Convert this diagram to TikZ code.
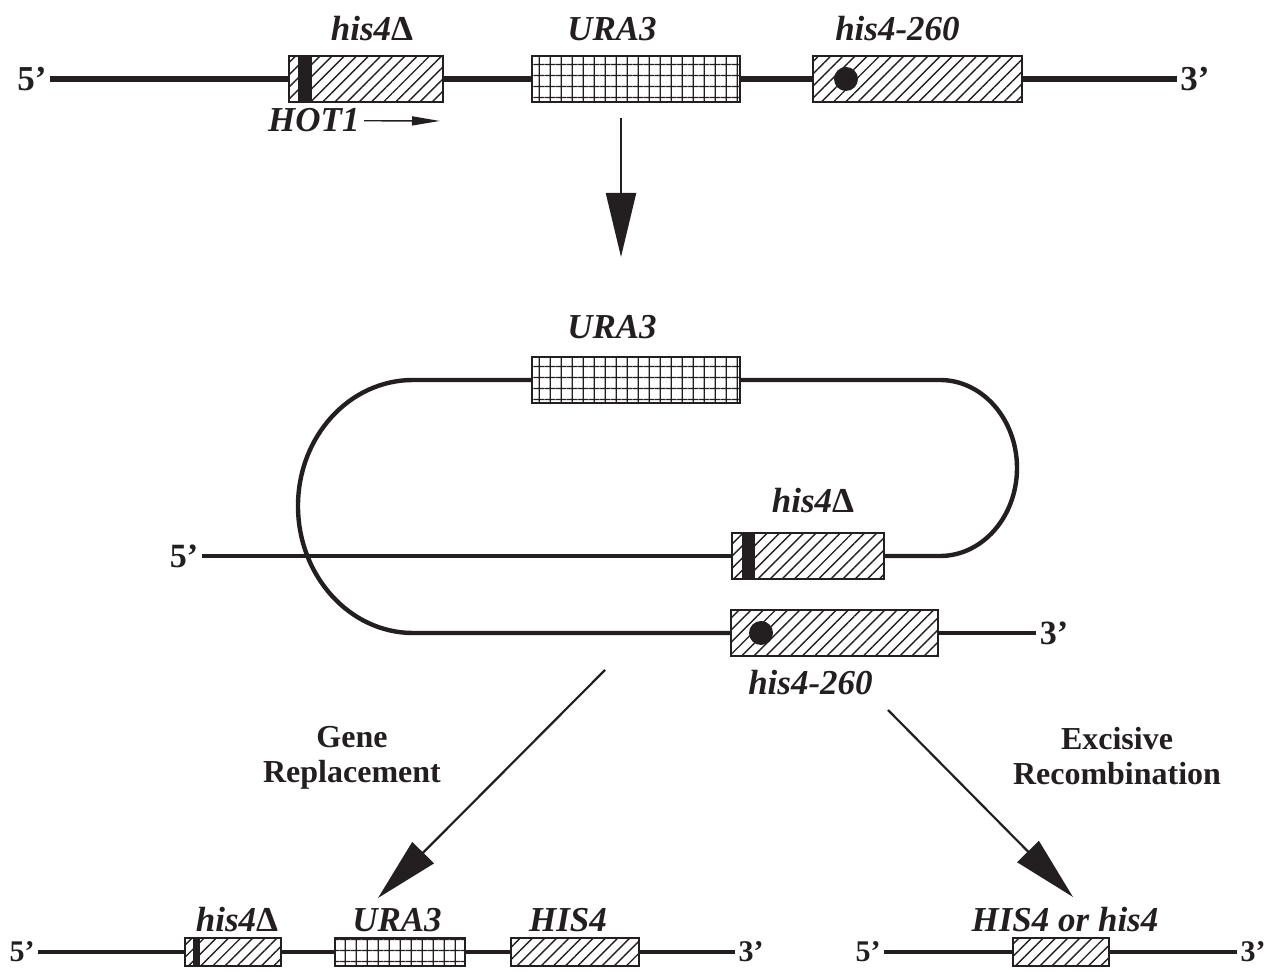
\documentclass[tikz,border=0pt]{standalone}
\usepackage{fontspec}
\setmainfont{Liberation Serif}
\usepackage{xcolor}
\usepackage{tikz}
\usetikzlibrary{arrows.meta,positioning,patterns.meta}
\definecolor{ink}{HTML}{231F20}
\tikzset{
  strand/.style={
    line width=#1, color=ink
  },
  strand/.default=2.6pt,
  hatchbox/.style={
    rectangle, draw=ink, line width=1.2pt,
    minimum width=#1, minimum height=23pt,
    inner sep=0pt, outer sep=0pt,
    pattern={Lines[angle=45, distance=4.3pt, line width=0.7pt]}, pattern color=ink
  },
  hatchbox/.default=77pt,
  gridbox/.style={
    rectangle, draw=ink, line width=1.2pt,
    minimum width=#1, minimum height=23pt,
    inner sep=0pt, outer sep=0pt,
    pattern={Hatch[angle=0, distance=5.4pt, line width=0.6pt]}, pattern color=ink
  },
  gridbox/.default=104pt,
  hotbar/.style={
    rectangle, fill=ink, inner sep=0pt, outer sep=0pt,
    minimum width=#1, minimum height=23pt, anchor=west
  },
  hotbar/.default=7pt,
  mutdot/.style={
    circle, fill=ink, inner sep=0pt, minimum size=12pt
  },
  genelabel/.style={
    font=\fontsize{17.5}{20}\selectfont\bfseries\itshape, text=ink, inner sep=0pt
  },
  endlabel/.style={
    font=\fontsize{#1}{20}\selectfont\bfseries, text=ink, inner sep=1.5pt
  },
  endlabel/.default=17.5,
  steplabel/.style={
    font=\fontsize{16}{17.5}\selectfont\bfseries, text=ink, align=center
  },
  bigarrow/.style={
    -{Triangle[length=32pt, width=15pt]}, line width=1.1pt, color=ink
  },
  hotarrow/.style={
    -{Triangle[length=14pt, width=4.5pt]}, line width=0.7pt, color=ink
  },
}

\begin{document}
\begin{tikzpicture}[x=0.5pt, y=-0.5pt]
  \useasboundingbox (0,0) rectangle (1276,972);

  % chromosome before
  \node[endlabel] (top5) at (32,79) {5’};
  \node[endlabel] (top3) at (1195,79) {3’};
  \node[hatchbox=77pt] (tdel) at (366,79) {};
  \node[gridbox=104pt] (tura) at (636,79) {};
  \node[hatchbox=104.5pt] (tpt) at (917.5,79) {};
  \node[hotbar=7pt] (tbar) at ([xshift=4.5pt]tdel.west) {};
  \node[mutdot] (tdot) at ([xshift=16.5pt]tpt.west) {};

  \draw[strand] (top5) -- (tdel);
  \draw[strand] (tdel) -- (tura);
  \draw[strand] (tura) -- (tpt);
  \draw[strand] (tpt) -- (top3);

  \node[genelabel, above=7.5pt of tdel, xshift=3pt] (ltdel) {his4\textup{Δ}};
  \node[genelabel, above=7.5pt of tura, xshift=-12pt] (ltura) {URA3};
  \node[genelabel, above=7.5pt of tpt, xshift=-10pt] (ltpt) {his4-260};

  \node[genelabel, anchor=base east] (hot) at (360,132) {HOT1};
  \coordinate (hotend) at (440,121);
  \draw[hotarrow, shorten <=2pt] (hot) -- (hotend);

  \coordinate (down0) at (621,118);
  \coordinate (down1) at (621,257);
  \draw[bigarrow] (down0) -- (down1);

  % integrated loop
  \node[gridbox=104pt] (mura) at (636,380) {};
  \node[hatchbox=76pt] (mdel) at (808,556) {};
  \node[hatchbox=103.5pt] (mpt) at (834.5,633) {};
  \node[hotbar=6.5pt] (mbar) at ([xshift=5pt]mdel.west) {};
  \node[mutdot] (mdot) at ([xshift=15pt]mpt.west) {};
  \node[endlabel=17] (mid5) at (184,556) {5’};
  \node[endlabel=17] (mid3) at (1054,633) {3’};

  \coordinate (loopTL) at (413,380);
  \coordinate (loopBL) at (413,633);
  \coordinate (loopTR) at (940,380);
  \coordinate (loopBR) at (940,556);

  \draw[strand=2.2pt] (mid5) -- (mdel);
  \draw[strand=2.2pt] (mdel) -- (loopBR)
    .. controls (982.5,556) and (1017,516.6) .. (1017,468)
    .. controls (1017,419.4) and (982.5,380) .. (loopTR) -- (mura);
  \draw[strand=2.2pt] (mura) -- (loopTL)
    .. controls (349.5,380) and (298,436.4) .. (298,506)
    .. controls (298,575.6) and (349.5,633) .. (loopBL) -- (mpt);
  \draw[strand=2.2pt] (mpt) -- (mid3);

  \node[genelabel, above=9pt of mura, xshift=-12pt] (lmura) {URA3};
  \node[genelabel, above=10pt of mdel, xshift=2.5pt] (lmdel) {his4\textup{Δ}};
  \node[genelabel, below=7pt of mpt, xshift=-12pt] (lmpt) {his4-260};

  \coordinate (gene0) at (605,670);
  \coordinate (gene1) at (378,898);
  \coordinate (exc0) at (888,710);
  \coordinate (exc1) at (1073,897);
  \draw[bigarrow] (gene0) -- (gene1);
  \draw[bigarrow] (exc0) -- (exc1);

  \node[steplabel] (gene) at (352,758) {Gene\\Replacement};
  \node[steplabel] (excis) at (1117,756) {Excisive\\Recombination};

  % gene replacement product
  \node[endlabel=15] (bl5) at (22,952) {5’};
  \node[endlabel=15] (bl3) at (751,952) {3’};
  \node[hatchbox=48pt, minimum height=14pt] (bdel) at (233,952) {};
  \node[gridbox=65pt, minimum height=14pt] (bura) at (400,952) {};
  \node[hatchbox=64pt, minimum height=14pt] (bhis) at (575,952) {};
  \node[hotbar=3.5pt, minimum height=14pt] (bbar) at ([xshift=4pt]bdel.west) {};

  \draw[strand=2.4pt] (bl5) -- (bdel);
  \draw[strand=2.4pt] (bdel) -- (bura);
  \draw[strand=2.4pt] (bura) -- (bhis);
  \draw[strand=2.4pt] (bhis) -- (bl3);

  \node[genelabel, above=3pt of bdel, xshift=2pt] (lbdel) {his4\textup{Δ}};
  \node[genelabel, above=3pt of bura, xshift=-1.5pt] (lbura) {URA3};
  \node[genelabel, above=3pt of bhis, xshift=-3.5pt] (lbhis) {HIS4};

  % excision product
  \node[endlabel=15] (br5) at (868,952) {5’};
  \node[endlabel=15] (br3) at (1253,952) {3’};
  \node[hatchbox=48pt, minimum height=14pt] (rhis) at (1061,952) {};
  \draw[strand=2.4pt] (br5) -- (rhis);
  \draw[strand=2.4pt] (rhis) -- (br3);

  \node[genelabel, above=3pt of rhis, xshift=2pt] (lrhis) {HIS4 or his4};
\end{tikzpicture}
\end{document}
